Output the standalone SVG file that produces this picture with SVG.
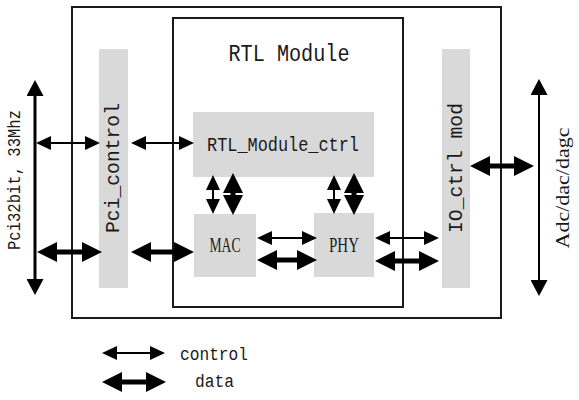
<svg xmlns="http://www.w3.org/2000/svg" width="579" height="400" viewBox="0 0 579 400">
<style>
.frame{fill:none;stroke:#1a1a1a;stroke-width:2}
.blk{fill:#d9d9d9;stroke:none}
.mono{font-family:"Liberation Mono","DejaVu Sans Mono",monospace;fill:#1a1a1a}
.serif{font-family:"Liberation Serif","DejaVu Serif",serif;fill:#1a1a1a}
.ctl{stroke:#000;stroke-width:2;fill:none;marker-start:url(#hThin);marker-end:url(#hThin)}
.dat{stroke:#000;stroke-width:5;fill:none;marker-start:url(#hThick);marker-end:url(#hThick)}
.bus{stroke:#000;stroke-width:3;fill:none;marker-start:url(#hBus);marker-end:url(#hBus)}
.bus2{stroke:#000;stroke-width:2;fill:none;marker-start:url(#hBus);marker-end:url(#hBus)}
</style>
<defs>
<marker id="hThin" markerUnits="userSpaceOnUse" viewBox="0 -7 15 14" markerWidth="15" markerHeight="14" refX="5" refY="0" orient="auto-start-reverse"><path d="M0,-7 L15,0 L0,7 z" fill="#000"/></marker>
<marker id="hThick" markerUnits="userSpaceOnUse" viewBox="0 -10 20 20" markerWidth="20" markerHeight="20" refX="6" refY="0" orient="auto-start-reverse"><path d="M0,-10 L20,0 L0,10 z" fill="#000"/></marker>
<marker id="hBus" markerUnits="userSpaceOnUse" viewBox="0 -8.5 16 17" markerWidth="16" markerHeight="17" refX="5" refY="0" orient="auto-start-reverse"><path d="M0,-8.5 L16,0 L0,8.5 z" fill="#000"/></marker>
</defs>
<rect width="579" height="400" fill="#fff"/>
<g id="system"><rect class="frame" x="72" y="7" width="429" height="311"/></g>
<g id="rtl-module"><rect class="frame" x="173" y="18" width="230" height="289"/>
<text class="mono" x="289" y="61" font-size="23" text-anchor="middle" textLength="121" lengthAdjust="spacingAndGlyphs">RTL Module</text></g>
<g id="pci-control"><rect class="blk" x="99" y="49" width="29" height="239"/>
<text class="mono" transform="translate(113,168) rotate(-90)" font-size="21" text-anchor="middle" dominant-baseline="central" textLength="130" lengthAdjust="spacingAndGlyphs">Pci_control</text></g>
<g id="io-ctrl"><rect class="blk" x="442" y="49" width="28" height="239"/>
<text class="mono" transform="translate(456,168) rotate(-90)" font-size="21" text-anchor="middle" dominant-baseline="central" textLength="130" lengthAdjust="spacingAndGlyphs">IO_ctrl mod</text></g>
<g id="rtl-ctrl"><rect class="blk" x="193" y="112" width="181" height="65"/>
<text class="mono" x="283" y="151" font-size="20" text-anchor="middle" textLength="152" lengthAdjust="spacingAndGlyphs">RTL_Module_ctrl</text></g>
<g id="mac"><rect class="blk" x="194" y="214" width="62" height="63"/>
<text class="serif" x="225" y="252" font-size="21" text-anchor="middle" textLength="31" lengthAdjust="spacingAndGlyphs">MAC</text></g>
<g id="phy"><rect class="blk" x="314" y="213" width="60" height="64"/>
<text class="serif" x="344" y="252" font-size="21" text-anchor="middle" textLength="30" lengthAdjust="spacingAndGlyphs">PHY</text></g>
<g id="pci-bus"><text class="mono" transform="translate(15,180) rotate(-90)" font-size="18" text-anchor="middle" dominant-baseline="central" textLength="140" lengthAdjust="spacingAndGlyphs">Pci32bit, 33Mhz</text></g>
<g id="adc-bus"><text class="serif" transform="translate(562,188) rotate(-90)" font-size="19" text-anchor="middle" dominant-baseline="central" textLength="121" lengthAdjust="spacingAndGlyphs">Adc/dac/dagc</text></g>
<g id="legend">
<text class="mono" x="180" y="360" font-size="18" textLength="68" lengthAdjust="spacingAndGlyphs">control</text>
<text class="mono" x="195" y="387" font-size="18" textLength="39" lengthAdjust="spacingAndGlyphs">data</text>
</g>
<g id="connectors">
<line class="bus" x1="35" y1="91" x2="35" y2="284"/>
<line class="bus2" x1="539" y1="90" x2="539" y2="285"/>
<line class="ctl" x1="46" y1="143" x2="90" y2="143"/>
<line class="ctl" x1="141" y1="143" x2="184" y2="143"/>
<line class="ctl" x1="213" y1="185" x2="213" y2="204"/>
<line class="ctl" x1="334" y1="185" x2="334" y2="204"/>
<line class="ctl" x1="267" y1="238" x2="307" y2="238"/>
<line class="ctl" x1="385" y1="238" x2="429" y2="238"/>
<line class="ctl" x1="112" y1="353" x2="155" y2="353"/>
<line class="dat" x1="51" y1="252" x2="88" y2="252"/>
<line class="dat" x1="145" y1="252" x2="180" y2="252"/>
<line class="dat" x1="271" y1="260" x2="303" y2="260"/>
<line class="dat" x1="389" y1="261" x2="425" y2="261"/>
<line class="dat" x1="484" y1="166" x2="520" y2="166"/>
<line class="dat" x1="233" y1="187" x2="233" y2="201"/>
<line class="dat" x1="354" y1="187" x2="354" y2="201"/>
<line class="dat" x1="116" y1="382" x2="152" y2="382"/>
</g>
</svg>
